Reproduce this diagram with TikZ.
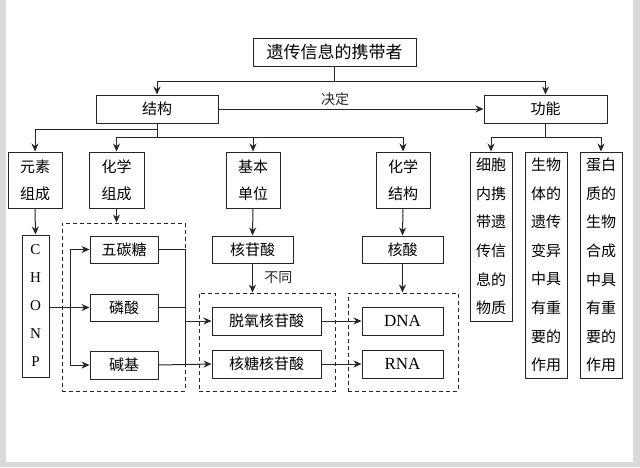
\documentclass[tikz,border=0pt]{standalone}
\usepackage{fontspec}
\setmainfont{Noto Sans CJK SC}
\newfontfamily\latinserif{Liberation Serif}
\usetikzlibrary{arrows.meta,positioning}

\begin{document}
\begin{tikzpicture}[x=1pt, y=-1pt,
  box/.style={draw=black!85, line width=1pt, inner sep=0pt, align=center, font=\fontsize{15}{27}\selectfont},
  tallbox/.style={box, minimum width=42pt, font=\fontsize{15}{28.6}\selectfont},
  dashbox/.style={draw=black!85, line width=1pt, dash pattern=on 4pt off 3pt, inner sep=0pt},
  conn/.style={line width=1pt, black!85},
  arr/.style={conn, -{Stealth[length=8pt,width=7pt]}}]
  % slide frame
  \useasboundingbox (0,0) rectangle (640,467);
  \fill[black!15] (0,0) rectangle (640,467);
  \fill[white] (6,0) rectangle (633,462);

  % top levels
  \node[box, minimum width=163pt, minimum height=28pt, font=\fontsize{17}{20}\selectfont] (top) at (334.5,52) {遗传信息的携带者};
  \node[box, minimum width=122pt, minimum height=28pt] (jg) at (157,109) {结构};
  \node[box, minimum width=123pt, minimum height=28pt] (gn) at (545.5,109) {功能};

  % structure branches
  \node[box, minimum width=54pt, minimum height=56pt] (ys) at (35,180) {元素\\组成};
  \node[box, minimum width=55pt, minimum height=56pt] (hxzc) at (116.5,180) {化学\\组成};
  \node[box, minimum width=54pt, minimum height=56pt] (jbdw) at (253,180) {基本\\单位};
  \node[box, minimum width=54pt, minimum height=56pt] (hxjg) at (403,180) {化学\\结构};

  % function branches
  \node[tallbox, minimum height=169pt] (f1) at (491,236.5) {细胞\\内携\\带遗\\传信\\息的\\物质};
  \node[tallbox, minimum height=226pt] (f2) at (546,265) {生物\\体的\\遗传\\变异\\中具\\有重\\要的\\作用};
  \node[tallbox, minimum height=226pt] (f3) at (601,265) {蛋白\\质的\\生物\\合成\\中具\\有重\\要的\\作用};

  % elements
  \node[box, minimum width=27pt, minimum height=142pt, font=\latinserif\fontsize{15}{28}\selectfont] (chonp) at (35.5,306) {C\\H\\O\\N\\P};

  % chemical composition
  \node[dashbox, minimum width=123pt, minimum height=168pt] (d1) at (123.5,307) {};
  \node[box, minimum width=68pt, minimum height=27pt] (wtt) at (124,249.5) {五碳糖};
  \node[box, minimum width=68pt, minimum height=27pt, below=30pt of wtt] (ls) {磷酸};
  \node[box, minimum width=68pt, minimum height=28pt, below=29pt of ls] (jj) {碱基};

  % basic unit
  \node[box, minimum width=81pt, minimum height=27pt] (hgs) at (252.5,249.5) {核苷酸};
  \node[dashbox, minimum width=136pt, minimum height=98pt] (d2) at (267,342) {};
  \node[box, minimum width=109pt, minimum height=28pt] (ty) at (266.5,321) {脱氧核苷酸};
  \node[box, minimum width=109pt, minimum height=28pt, below=14pt of ty] (ht) {核糖核苷酸};

  % chemical structure
  \node[box, minimum width=81pt, minimum height=27pt] (hs) at (402.5,249.5) {核酸};
  \node[dashbox, minimum width=110pt, minimum height=98pt] (d3) at (403,342) {};
  \node[box, minimum width=81pt, minimum height=28pt, font=\latinserif\fontsize{17}{20}\selectfont] (dna) at (402.5,321) {DNA};
  \node[box, minimum width=81pt, minimum height=28pt, below=14pt of dna, font=\latinserif\fontsize{17}{20}\selectfont] (rna) {RNA};

  % connectors
  \coordinate (t1) at (334.5,81);
  \draw[conn] (top.south) -- (t1);
  \draw[arr] (t1) -| (jg.north);
  \draw[arr] (t1) -| (gn.north);
  \draw[arr] (jg.east) -- node[above, pos=0.44, font=\fontsize{14}{16}\selectfont] (jd) {决定} (gn.west);

  \coordinate (j1) at (157,129);
  \coordinate (j2) at (157,137);
  \draw[conn] (jg.south) -- (j2);
  \draw[arr] (j1) -| (ys.north);
  \draw[arr] (j2) -| (hxzc.north);
  \draw[arr] (j2) -| (hxjg.north);
  \draw[arr] (jbdw.north |- j2) -- (jbdw.north);

  \coordinate (g1) at (545.5,137);
  \draw[conn] (gn.south) -- (g1);
  \draw[arr] (g1) -| (f1.north);
  \draw[arr] (g1) -| (f3.north);

  \draw[arr] (ys.south) -- (chonp.north);
  \draw[arr] (hxzc.south) -- (hxzc.south |- d1.north);
  \coordinate (c1) at (70,306.5);
  \draw[arr] (chonp.east |- ls.west) -- (ls.west);
  \draw[arr] (c1) |- (wtt.west);
  \draw[arr] (c1) |- (jj.west);

  \draw[conn] (wtt.east) -- (wtt.east -| d1.east) -- (jj.east -| d1.east);
  \draw[conn] (ls.east) -- (ls.east -| d1.east);
  \draw[arr] (ty.west -| d1.east) -- (ty.west);
  \draw[arr] (jj.east) -- (ht.west);

  \draw[arr] (jbdw.south) -- (hgs.north);
  \draw[arr] (hgs.south) -- node[right, xshift=8pt, font=\fontsize{14}{16}\selectfont] (bt) {不同} (hgs.south |- d2.north);
  \draw[arr] (ty.east) -- (dna.west);
  \draw[arr] (ht.east) -- (rna.west);

  \draw[arr] (hxjg.south) -- (hs.north);
  \draw[arr] (hs.south) -- (hs.south |- d3.north);
\end{tikzpicture}
\end{document}
